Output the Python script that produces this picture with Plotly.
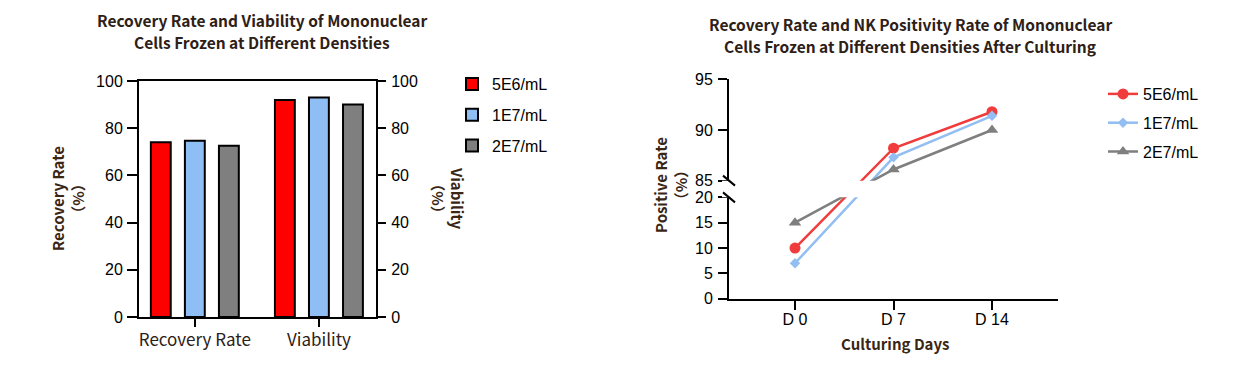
import plotly.graph_objects as go

W, H = 1235, 369

# ---------------- data ----------------
bar_categories = ["Recovery Rate", "Viability"]
series_names = ["5E6/mL", "1E7/mL", "2E7/mL"]
bar_5e6 = [74.0, 92.0]
bar_1e7 = [74.7, 93.0]
bar_2e7 = [72.6, 90.0]

days = ["D 0", "D 7", "D 14"]
pos_5e6 = [10.0, 88.2, 91.8]
pos_1e7 = [7.0, 87.3, 91.4]
pos_2e7 = [15.0, 86.1, 90.0]

right_tick_values = [0, 5, 10, 15, 20, 85, 90, 95]

left_title_lines = ["Recovery Rate and Viability of Mononuclear",
                    "Cells Frozen at Different Densities"]
right_title_lines = ["Recovery Rate and NK Positivity Rate of Mononuclear",
                     "Cells Frozen at Different Densities After Culturing"]

# ---------------- styles ----------------
bar_colors = ["#FF0000", "#8FBEF5", "#7F7F7F"]
line_colors = ["#F03C3C", "#92BEF2", "#7F7F7F"]
marker_symbols = ["circle", "diamond", "triangle-up"]
marker_sizes = [11, 8, 11]

CJK = "Noto Sans CJK SC, Noto Sans"
TICK_FONT = dict(family="Liberation Sans, Arial", size=16, color="#000000")
TITLE_FONT = dict(family=CJK, size=15.5, color="#2d2016", weight="bold")
AXT_FONT = dict(family=CJK, size=15, color="#3a2614", weight="bold")

# y-axis break mapping for the right chart (lower segment 0-20, upper 85-95)
LOW_TOP, GAP, UP_START, UP_SCALE = 20.0, 3.3, 85.0, 2.0


def brk(v):
    return v if v <= LOW_TOP else LOW_TOP + GAP + (v - UP_START) * UP_SCALE


def px_x(x):
    return x / W


def px_y(y):
    return 1 - y / H


fig = go.Figure()

# ---------------- left: grouped bars ----------------
for name, vals, col in zip(series_names, [bar_5e6, bar_1e7, bar_2e7], bar_colors):
    fig.add_trace(go.Bar(
        x=bar_categories, y=vals, name=name,
        marker=dict(color=col, line=dict(color="#000000", width=2)),
        xaxis="x", yaxis="y", legend="legend", legendgroup=name,
    ))
# invisible helper so the right-hand viability axis is rendered
fig.add_trace(go.Scatter(x=[bar_categories[0]], y=[None], xaxis="x", yaxis="y2",
                         showlegend=False, hoverinfo="skip", mode="markers"))

# ---------------- right: lines with break ----------------
for name, vals, col, sym, sz in zip(series_names, [pos_5e6, pos_1e7, pos_2e7],
                                     line_colors, marker_symbols, marker_sizes):
    fig.add_trace(go.Scatter(
        x=days, y=[brk(v) for v in vals], name=name, mode="lines+markers",
        line=dict(color=col, width=2.5),
        marker=dict(color=col, symbol=sym, size=sz),
        customdata=vals, hovertemplate="%{x}: %{customdata}<extra>" + name + "</extra>",
        xaxis="x3", yaxis="y3", legend="legend2", legendgroup="r" + name,
    ))

axis_common = dict(showline=True, linewidth=2, linecolor="#000000", showgrid=False,
                   zeroline=False, ticks="outside", tickwidth=2, tickcolor="#000000",
                   tickfont=TICK_FONT, automargin=False)

fig.update_layout(
    width=W, height=H, margin=dict(l=0, r=0, t=0, b=0, autoexpand=False),
    paper_bgcolor="white", plot_bgcolor="white",
    barmode="group", bargap=0.177, bargroupgap=0.416,
    xaxis=dict(axis_common, domain=[px_x(139), px_x(376)], anchor="y", type="category",
               range=[-0.45, 1.46], mirror=True, ticklen=8, ticklabelstandoff=-1,
               tickfont=dict(family=CJK, size=17, color="#2d2016")),
    yaxis=dict(axis_common, domain=[px_y(317), px_y(81)], anchor="x", range=[0, 100],
               dtick=20, ticklen=10, ticklabelstandoff=1),
    yaxis2=dict(axis_common, overlaying="y", anchor="x", side="right", range=[0, 100],
                dtick=20, ticklen=8, ticklabelstandoff=2),
    xaxis3=dict(axis_common, domain=[px_x(729), px_x(1058)], anchor="y3", type="category",
                range=[-0.67, 2.67], ticklen=9, ticklabelstandoff=-4),
    yaxis3=dict(axis_common, domain=[px_y(298.7), px_y(79.3)], anchor="x3",
                range=[0, brk(95)], tickvals=[brk(v) for v in right_tick_values],
                ticktext=[str(v) for v in right_tick_values], ticklen=9, ticklabelstandoff=2),
    legend=dict(x=px_x(452), y=px_y(67), xanchor="left", yanchor="top",
                font=dict(family="Liberation Sans, Arial", size=16, color="#000000"),
                tracegroupgap=7, bgcolor="rgba(0,0,0,0)"),
    legend2=dict(x=px_x(1103), y=px_y(77), xanchor="left", yanchor="top",
                 font=dict(family="Liberation Sans, Arial", size=16, color="#000000"),
                 tracegroupgap=5, bgcolor="rgba(0,0,0,0)"),
    showlegend=True,
)

# break: blank gap band and slash marks
unit_px = (298.7 - 79.3) / brk(95)
fig.add_shape(type="rect", xref="paper", yref="y3", x0=px_x(722), x1=px_x(1062),
              y0=LOW_TOP, y1=brk(UP_START), fillcolor="white", line=dict(width=0), layer="above")
for yb in [LOW_TOP, brk(UP_START)]:
    fig.add_shape(type="line", xref="paper", yref="y3",
                  x0=px_x(723), x1=px_x(735), y0=yb + 5 / unit_px, y1=yb - 5 / unit_px,
                  line=dict(color="#000000", width=2), layer="above")

annotations = [
    dict(text=left_title_lines[0], x=px_x(262), y=px_y(20), font=TITLE_FONT),
    dict(text=left_title_lines[1], x=px_x(262), y=px_y(41.5), font=TITLE_FONT),
    dict(text=right_title_lines[0], x=px_x(910), y=px_y(24), font=TITLE_FONT),
    dict(text=right_title_lines[1], x=px_x(910), y=px_y(45.5), font=TITLE_FONT),
    dict(text="Recovery Rate<br>（%）", x=px_x(67), y=px_y(199), textangle=-90, font=AXT_FONT),
    dict(text="Viability<br>（%）", x=px_x(448), y=px_y(198), textangle=90, font=AXT_FONT),
    dict(text="Positive Rate<br>（%）", x=px_x(671), y=px_y(185), textangle=-90, font=AXT_FONT),
    dict(text="Culturing Days", x=px_x(895), y=px_y(343), font=AXT_FONT),
]
for a in annotations:
    fig.add_annotation(xref="paper", yref="paper", showarrow=False,
                       xanchor="center", yanchor="middle", **a)

fig.write_html("out.html", config={"displayModeBar": False},
               post_script="document.body.style.margin='0';document.body.style.padding='0';")
